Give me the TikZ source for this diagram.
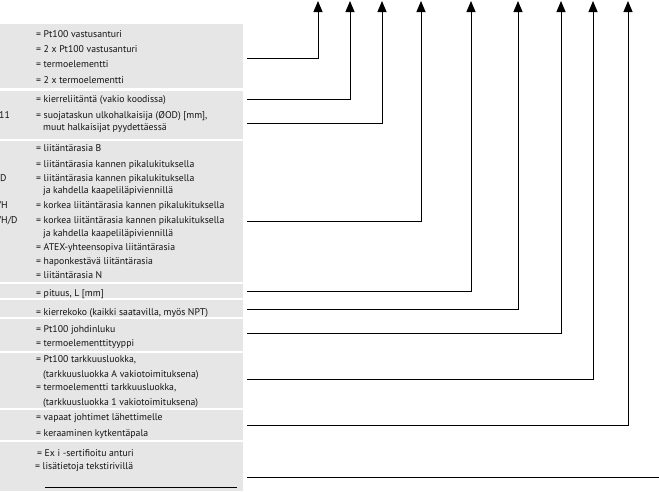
\documentclass[tikz,border=0pt]{standalone}
\usepackage{fontspec}
\setmainfont{PT Sans}
\usetikzlibrary{arrows.meta}
\definecolor{bandgray}{RGB}{230,230,230}
\definecolor{txt}{RGB}{20,18,18}
\tikzset{
  lbl/.style={anchor=base west, inner sep=0pt, font=\fontsize{9.75}{12}\selectfont, text=txt},
  band/.style={fill=bandgray, draw=none},
  conn/.style={line width=1pt, draw=black, -{Triangle[width=9pt,length=11pt]}},
  plain/.style={line width=1pt, draw=black},
}
\newcommand{\tl}[4]{\node[lbl] (#1) at (#2,#3+3.5) {#4};}
\begin{document}
\begin{tikzpicture}[x=1pt,y=-1pt]
\useasboundingbox (0,0) rectangle (659,491);
\clip (0,0) rectangle (659,491);
% bands
\fill[band] (0,24) rectangle (243,88);
\fill[band] (0,91) rectangle (243,139);
\fill[band] (0,141) rectangle (243,282);
\fill[band] (0,284) rectangle (243,298);
\fill[band] (0,300) rectangle (243,317);
\fill[band] (0,319) rectangle (243,351);
\fill[band] (0,353) rectangle (243,408);
\fill[band] (0,410) rectangle (243,440);
\fill[band] (0,442) rectangle (243,491);
% band 1
\tl{a1}{36}{34}{= Pt100 vastusanturi}
\tl{a2}{36}{49}{= 2 x Pt100 vastusanturi}
\tl{a3}{36}{64}{= termoelementti}
\tl{a4}{36}{80}{= 2 x termoelementti}
% band 2
\tl{b0}{-1}{115}{11}
\tl{b1}{36}{99}{= kierreliitäntä (vakio koodissa)}
\tl{b2}{36}{115}{= suojataskun ulkohalkaisija (ØOD) [mm],}
\tl{b3}{43}{127}{muut halkaisijat pyydettäessä}
% band 3
\tl{c0a}{0}{178}{D}
\tl{c0b}{-4.5}{205}{VH}
\tl{c0c}{-4.5}{220}{VH/D}
\tl{c1}{36}{148}{= liitäntärasia B}
\tl{c2}{36}{164}{= liitäntärasia kannen pikalukituksella}
\tl{c3}{36}{178}{= liitäntärasia kannen pikalukituksella}
\tl{c4}{43}{190}{ja kahdella kaapeliläpiviennillä}
\tl{c5}{36}{205}{= korkea liitäntärasia kannen pikalukituksella}
\tl{c6}{36}{220}{= korkea liitäntärasia kannen pikalukituksella}
\tl{c7}{43}{233}{ja kahdella kaapeliläpiviennillä}
\tl{c8}{36}{247}{= ATEX-yhteensopiva liitäntärasia}
\tl{c9}{36}{261}{= haponkestävä liitäntärasia}
\tl{c10}{36}{275}{= liitäntärasia N}
% bands 4-9
\tl{d1}{36}{293}{= pituus, L [mm]}
\tl{e1}{36}{312}{= kierrekoko (kaikki saatavilla, myös NPT)}
\tl{f1}{36}{329}{= Pt100 johdinluku}
\tl{f2}{36}{343}{= termoelementtityyppi}
\tl{g1}{36}{359}{= Pt100 tarkkuusluokka,}
\tl{g2}{43}{374}{(tarkkuusluokka A vakiotoimituksena)}
\tl{g3}{36}{387}{= termoelementti tarkkuusluokka,}
\tl{g4}{43}{402}{(tarkkuusluokka 1 vakiotoimituksena)}
\tl{h1}{36}{417}{= vapaat johtimet lähettimelle}
\tl{h2}{36}{433}{= keraaminen kytkentäpala}
\tl{i1}{37}{453}{= Ex i -sertifioitu anturi}
\tl{i2}{35}{466}{= lisätietoja tekstirivillä}
\coordinate (u1) at (45,487);
\coordinate (u2) at (237,487);
\draw[plain] (u1) -- (u2);
% connectors
\coordinate (s1) at (247,58);  \coordinate (t1) at (318,1);
\coordinate (s2) at (247,99);  \coordinate (t2) at (350,1);
\coordinate (s3) at (247,123); \coordinate (t3) at (382,1);
\coordinate (s4) at (247,221); \coordinate (t4) at (421,1);
\coordinate (s5) at (247,291); \coordinate (t5) at (471,1);
\coordinate (s6) at (247,309); \coordinate (t6) at (518,1);
\coordinate (s7) at (247,333); \coordinate (t7) at (561,1);
\coordinate (s8) at (247,379); \coordinate (t8) at (593,1);
\coordinate (s9) at (247,425); \coordinate (t9) at (628,1);
\coordinate (s10) at (247,477); \coordinate (e10) at (659,477);
\foreach \i in {1,...,9} {\draw[conn] (s\i) -| (t\i);}
\draw[plain] (s10) -- (e10);
\end{tikzpicture}
\end{document}
